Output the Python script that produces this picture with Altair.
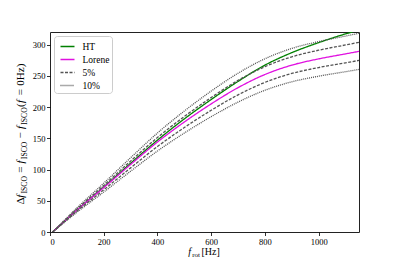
import altair as alt
import pandas as pd

# ---------------- data ----------------
freq = [10, 100, 200, 300, 400, 500, 600, 700, 800, 900, 1000, 1100, 1150]
ht = [0, 35, 72, 110, 147, 181, 212, 241, 267, 287, 303, 317, 323]
lorene = [0, 35, 71, 108, 144, 176, 205, 231, 252, 267, 277, 285, 289]
band_labels = ["5%", "10%"]
band_fracs = [0.05, 0.10]
series_order = ["HT", "Lorene", "5%", "10%"]
series_colors = ["#008000", "#e010e0", "#555555", "#555555"]
series_dash = [[1, 0], [1, 0], [3, 1.5], [1, 1]]
series_width = [1.3, 1.3, 0.75, 0.75]
x_ticks = [0, 200, 400, 600, 800, 1000]
y_ticks = [0, 50, 100, 150, 200, 250, 300]

FONT = "Liberation Serif"
W, H = 309, 200

rows = []
for f, a, b in zip(freq, ht, lorene):
    rows.append({"f": f, "v": a, "series": "HT", "line": "HT"})
    rows.append({"f": f, "v": b, "series": "Lorene", "line": "Lorene"})
    for lab, fr in zip(band_labels, band_fracs):
        rows.append({"f": f, "v": b * (1 + fr), "series": lab, "line": lab + "+"})
        rows.append({"f": f, "v": b * (1 - fr), "series": lab, "line": lab + "-"})
df = pd.DataFrame(rows)

leg = alt.Legend(
    title=None, orient="none", legendX=4, legendY=4, symbolType="stroke",
    symbolSize=196, symbolOffset=3, labelFont=FONT, labelFontSize=9.5, labelOffset=7,
    labelColor="black", rowPadding=-2.5, padding=2.5, strokeColor="#cccccc",
    fillColor="white", cornerRadius=3,
)

lines = alt.Chart(df).mark_line(clip=True, interpolate="monotone").encode(
    x=alt.X("f:Q", scale=alt.Scale(domain=[0, 1150], nice=False, zero=False),
            axis=alt.Axis(values=x_ticks, title=None, format="d")),
    y=alt.Y("v:Q", scale=alt.Scale(domain=[0, 320], nice=False),
            axis=alt.Axis(values=y_ticks, title=None, format="d")),
    color=alt.Color("series:N", scale=alt.Scale(domain=series_order, range=series_colors), legend=leg),
    strokeDash=alt.StrokeDash("series:N", scale=alt.Scale(domain=series_order, range=series_dash), legend=leg),
    strokeWidth=alt.StrokeWidth("series:N", scale=alt.Scale(domain=series_order, range=series_width), legend=leg),
    detail="line:N",
    order="f:Q",
)

# ---------------- axis titles built from text pieces (math style) ----------------
CW = {"Δ": 0.612, "f": 0.278, "I": 0.333, "S": 0.556, "C": 0.667, "O": 0.722,
      "=": 0.564, "−": 0.564, " ": 0.25, "(": 0.333, ")": 0.333, "0": 0.5,
      "H": 0.722, "z": 0.444, "r": 0.333, "o": 0.5, "t": 0.278, "[": 0.333, "]": 0.333}
M, S = 11, 7.7


def layout(segs):
    out, pos = [], 0.0
    for text, size, italic, shift, gap_before, gap_after in segs:
        pos += gap_before
        out.append({"text": text, "size": size, "italic": italic, "shift": shift, "pos": pos})
        pos += sum(CW[c] for c in text) * size + gap_after
    return out, pos


ysegs = [("Δ", M, False, 0, 0, 0), ("f", M, True, 0, 0, 1.2), ("ISCO", S, False, 2.5, 0, 0),
         ("=", M, False, 0, 3.2, 3.2), ("f", M, True, 0, 0, 1.2), ("ISCO", S, False, 2.5, 0, 0),
         ("−", M, False, 0, 3.2, 3.2), ("f", M, True, 0, 0, 1.2), ("ISCO", S, False, 2.5, 0, 0.3),
         ("(", M, False, 0, 0, 0.3), ("f", M, True, 0, 0, 1.5), ("=", M, False, 0, 3.2, 3.2),
         ("0Hz", M, False, 0, 0, 0.3), (")", M, False, 0, 0, 0)]
ylist, ylen = layout(ysegs)
ycenter, ybase = 102, -26
ytitle = pd.DataFrame([{**d, "px": ybase + d["shift"], "py": ycenter + ylen / 2 - d["pos"]} for d in ylist])

MX, SX = 10, 7
xsegs = [("f", MX, True, 0, 0, 1.1), ("rot", SX, False, 2, 0, 1.5), ("[Hz]", MX, False, 0, 0, 0)]
xlist, xlen = layout(xsegs)
xcenter, xbase = 154, 222.5
xtitle = pd.DataFrame([{**d, "px": xcenter - xlen / 2 + d["pos"], "py": xbase + d["shift"]} for d in xlist])


def text_layer(data, italic, angle):
    sub = data[data["italic"] == italic]
    mk = dict(font=FONT, align="left", baseline="alphabetic", color="black", angle=angle)
    if italic:
        mk["fontStyle"] = "italic"
    return alt.Chart(sub).mark_text(**mk).encode(
        x=alt.X("px:Q", scale=None), y=alt.Y("py:Q", scale=None),
        text="text:N", size=alt.Size("size:Q", scale=None, legend=None),
    )


chart = alt.layer(
    lines,
    text_layer(ytitle, False, 270), text_layer(ytitle, True, 270),
    text_layer(xtitle, False, 0), text_layer(xtitle, True, 0),
).resolve_scale(x="independent", y="independent", size="independent").properties(
    width=W, height=H,
    autosize=alt.AutoSizeParams(type="none"),
    padding={"left": 42, "top": 24, "right": 20, "bottom": 26},
).configure_view(stroke="#222222", strokeWidth=1).configure_axis(
    domain=False, grid=False, ticks=True, tickSize=3.5, tickWidth=0.8, tickColor="black",
    labelFont=FONT, labelFontSize=8.5, labelColor="black", labelPadding=1.5,
)

chart.save("out.html", embed_options={"renderer": "svg", "actions": False})
